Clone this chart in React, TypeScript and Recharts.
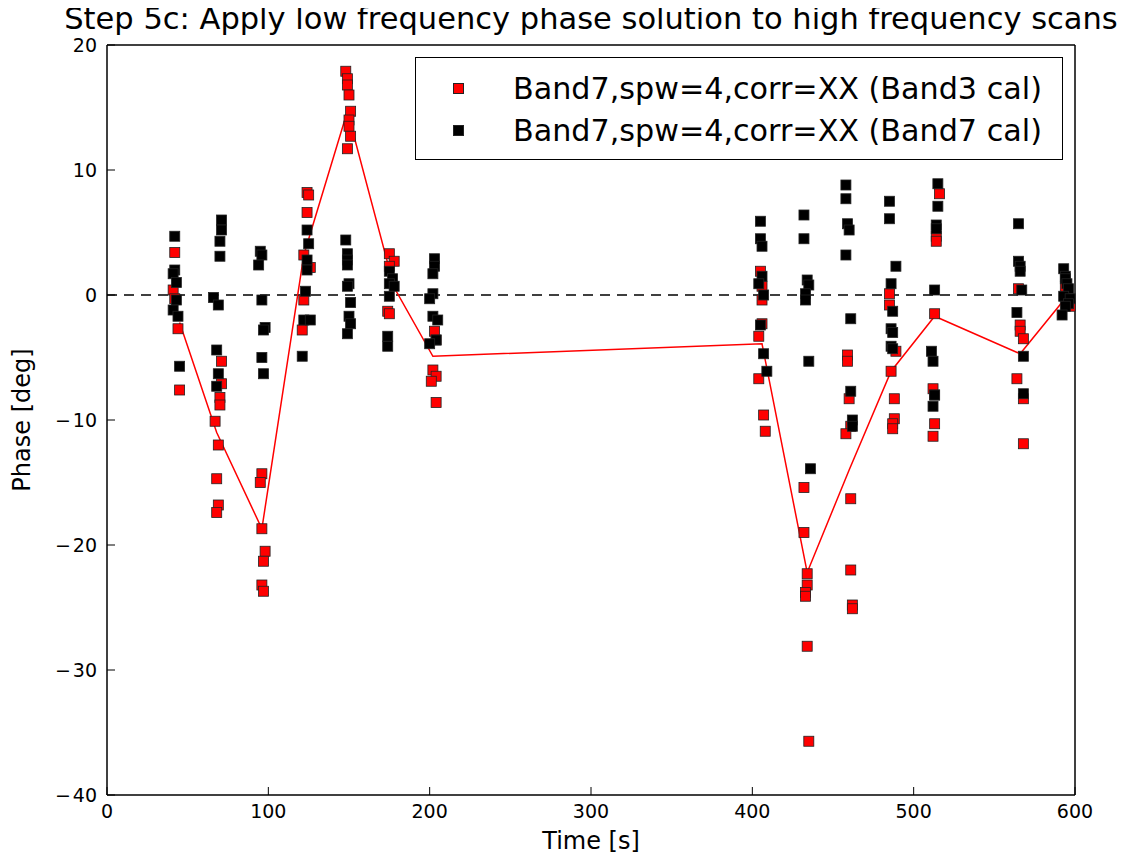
import React from "react";
import {
  ComposedChart,
  Legend,
  Line,
  ReferenceLine,
  Scatter,
  XAxis,
  YAxis,
} from "recharts";

const FONT = '"DejaVu Sans", "Bitstream Vera Sans", sans-serif';

const X_TICKS = [0, 100, 200, 300, 400, 500, 600];
const Y_TICKS = [-40, -30, -20, -10, 0, 10, 20];

// [time s, phase deg]
const BAND3_CAL: [number, number][] = [
  [42, 3.4], [41, 0.4], [42, -0.3], [44, -2.7], [45, -7.6],
  [71, -5.3], [71, -7.1], [70, -8.2], [70, -8.8], [67, -10.1], [69, -12.0], [68, -14.7], [69, -16.8], [68, -17.4],
  [96, -14.3], [95, -15.0], [96, -18.7], [98, -20.5], [97, -21.3], [96, -23.2], [97, -23.7],
  [124, 8.2], [125, 8.0], [124, 6.6], [122, 3.2], [126, 2.2], [122, -0.4], [121, -2.8],
  [148, 17.9], [149, 17.3], [149, 16.8], [150, 16.0], [151, 14.7], [150, 14.0], [150, 13.5], [151, 12.7], [149, 11.7],
  [175, 3.3], [178, 2.7], [175, 2.3], [174, -1.3], [175, -1.5],
  [203, -2.9], [204, -3.6], [202, -6.0], [204, -6.5], [201, -6.9], [204, -8.6],
  [405, 1.9], [406, 0.7], [406, -0.4], [406, -2.3], [404, -3.3], [404, -6.7], [407, -9.6], [408, -10.9],
  [432, -15.4], [432, -19.0], [434, -22.3], [434, -23.2], [433, -23.8], [433, -24.1], [434, -28.1], [435, -35.7],
  [459, -4.8], [459, -5.3], [460, -8.3], [461, -10.5], [458, -11.1], [461, -16.3], [461, -22.0], [462, -24.8], [462, -25.1],
  [485, 0.1], [485, -0.8], [489, -4.5], [486, -6.1], [488, -8.3], [488, -9.9], [487, -10.3], [487, -10.7],
  [516, 8.1], [514, 4.7], [514, 4.3], [513, -1.5], [512, -7.5], [513, -8.0], [513, -10.3], [512, -11.3],
  [565, 0.5], [566, -2.4], [566, -2.9], [568, -3.5], [564, -6.7], [568, -8.3], [568, -11.9],
  [594, 0.7], [595, -0.4], [597, -0.9],
];

const BAND7_CAL: [number, number][] = [
  [42, 4.7], [42, 2.0], [41, 1.7], [43, 1.0], [43, -0.4], [41, -1.2], [44, -1.7], [45, -5.7],
  [71, 6.0], [71, 5.2], [70, 4.3], [70, 3.1], [66, -0.2], [69, -0.8], [68, -4.4], [69, -6.3], [68, -7.3],
  [95, 3.5], [96, 3.2], [94, 2.4], [96, -0.4], [98, -2.6], [97, -2.8], [96, -5.0], [97, -6.3],
  [124, 5.2], [125, 4.1], [124, 2.8], [124, 2.0], [123, 0.3], [122, -2.0], [126, -2.0], [121, -4.9],
  [148, 4.4], [149, 3.3], [149, 2.8], [149, 2.4], [150, 0.9], [149, 0.7], [151, -0.6], [150, -1.7], [151, -2.3], [149, -3.1],
  [175, 1.9], [177, 1.3], [175, 0.9], [178, 0.7], [175, -0.1], [174, -3.3], [174, -4.1],
  [203, 2.9], [203, 2.3], [202, 1.7], [202, 0.1], [200, -0.3], [202, -1.7], [205, -2.0], [204, -3.6], [200, -3.9],
  [405, 5.9], [405, 4.5], [406, 3.9], [406, 1.5], [404, 0.9], [407, 0.0], [405, -2.4], [407, -4.7], [409, -6.1],
  [432, 6.4], [432, 4.5], [434, 1.2], [435, 0.8], [433, 0.1], [433, -0.4], [435, -5.3], [436, -13.9],
  [458, 8.8], [458, 7.7], [459, 5.7], [460, 5.2], [458, 3.2], [461, -1.9], [461, -7.7], [462, -10.0], [462, -10.5],
  [485, 7.5], [485, 6.1], [489, 2.3], [486, 0.9], [487, -1.3], [486, -2.7], [487, -3.0], [486, -4.1], [487, -4.3],
  [515, 8.9], [515, 7.1], [514, 5.6], [514, 5.3], [513, 0.4], [511, -4.5], [512, -5.3], [513, -8.0], [512, -8.9],
  [565, 5.7], [565, 2.7], [566, 2.3], [566, 1.9], [567, 0.4], [564, -1.4], [568, -4.9], [568, -7.9],
  [593, 2.1], [594, 1.5], [594, 1.3], [595, 0.9], [596, 0.5], [593, -0.1], [597, -0.3], [596, -0.7], [594, -0.9], [592, -1.6],
];

// low frequency solution, one vertex per scan
const SOLUTION: [number, number][] = [
  [45, -2.2], [68, -11.0], [96, -18.7], [122, 3.2], [149, 14.7], [178, 0.6], [202, -4.9],
  [406, -3.9], [434, -22.2], [460, -14.0], [486, -6.1], [513, -1.7], [566, -4.7], [595, -0.1],
];

const LABEL_B3 = "Band7,spw=4,corr=XX (Band3 cal)";
const LABEL_B7 = "Band7,spw=4,corr=XX (Band7 cal)";

const toPts = (arr: [number, number][]) => arr.map(([t, v]) => ({ t, v }));

const TICK_LEN = 8;
const MARK = 10;

// matplotlib's minus sign is wide, give it a little room
const TickText = ({ v }: { v: number }) =>
  v < 0 ? (
    <>
      <tspan>{"\u2212"}</tspan>
      <tspan dx={2}>{Math.abs(v)}</tspan>
    </>
  ) : (
    <>{v}</>
  );

function Square(props: any) {
  const { cx, cy, fill } = props;
  if (cx == null || cy == null) return null;
  return (
    <rect
      x={cx - MARK / 2}
      y={cy - MARK / 2}
      width={MARK}
      height={MARK}
      fill={fill}
      stroke="#222"
      strokeWidth={0.8}
    />
  );
}

const BottomTick = ({ x, y, payload }: any) => (
  <g>
    <line x1={x} x2={x} y1={y} y2={y - TICK_LEN} stroke="#000" />
    <text x={x} y={y + 23} textAnchor="middle" fontSize={19} fontFamily={FONT} fill="#000">
      <TickText v={payload.value} />
    </text>
  </g>
);

const TopTick = ({ x, y }: any) => (
  <line x1={x} x2={x} y1={y} y2={y + TICK_LEN} stroke="#000" />
);

const LeftTick = ({ x, y, payload }: any) => (
  <g>
    <line x1={x} x2={x + TICK_LEN} y1={y} y2={y} stroke="#000" />
    <text x={x - 10} y={y} textAnchor="end" dominantBaseline="central" fontSize={19} fontFamily={FONT} fill="#000">
      <TickText v={payload.value} />
    </text>
  </g>
);

const RightTick = ({ x, y }: any) => (
  <line x1={x} x2={x - TICK_LEN} y1={y} y2={y} stroke="#000" />
);

const renderLegend = (props: any) => {
  const items = (props.payload || []).filter((p: any) => p.type !== "none");
  return (
    <div
      style={{
        boxSizing: "border-box",
        width: 648,
        height: 103,
        border: "1.5px solid #000",
        background: "#fff",
        fontFamily: FONT,
        fontSize: 30.2,
        position: "relative",
      }}
    >
      {items.map((it: any, i: number) => (
        <div
          key={i}
          style={{
            position: "absolute",
            left: 0,
            top: 30 + i * 42 - 18,
            height: 36,
            display: "flex",
            alignItems: "center",
          }}
        >
          <span
            style={{
              display: "inline-block",
              width: 9,
              height: 9,
              background: it.color,
              border: "1px solid #222",
              marginLeft: 37,
            }}
          />
          <span style={{ marginLeft: 49, whiteSpace: "nowrap", color: "#000" }}>{it.value}</span>
        </div>
      ))}
    </div>
  );
};

export default function App() {
  const W = 1118;
  const H = 850;
  return (
    <div style={{ position: "relative", width: W, height: H }}>
      <ComposedChart
        width={W}
        height={H}
        margin={{ top: 36, right: 41, bottom: 3, left: 39 }}
      >
        <XAxis
          xAxisId="b"
          dataKey="t"
          type="number"
          domain={[0, 600]}
          ticks={X_TICKS}
          interval={0}
          height={60}
          tickSize={0}
          tickMargin={0}
          tick={<BottomTick />}
          axisLine={{ stroke: "#000", strokeWidth: 1.5 }}
          label={{
            content: (p: any) => {
              const vb = p.viewBox;
              return (
                <text x={vb.x + vb.width / 2} y={vb.y + 54} textAnchor="middle" fontSize={24} fontFamily={FONT} fill="#000">
                  Time [s]
                </text>
              );
            },
          }}
        />
        <XAxis
          xAxisId="t"
          dataKey="t"
          type="number"
          orientation="top"
          domain={[0, 600]}
          ticks={X_TICKS}
          interval={0}
          height={1}
          tickSize={0}
          tickMargin={0}
          tick={<TopTick />}
          axisLine={{ stroke: "#000", strokeWidth: 1.5 }}
        />
        <YAxis
          yAxisId="l"
          type="number"
          domain={[-40, 20]}
          ticks={Y_TICKS}
          interval={0}
          width={60}
          tickSize={0}
          tickMargin={0}
          tick={<LeftTick />}
          axisLine={{ stroke: "#000", strokeWidth: 1.5 }}
          label={{
            content: (p: any) => {
              const vb = p.viewBox;
              const cx = vb.x - 25;
              const cy = vb.y + vb.height / 2;
              return (
                <text x={cx} y={cy} transform={`rotate(-90 ${cx} ${cy})`} textAnchor="middle" dominantBaseline="central" fontSize={24} fontFamily={FONT} fill="#000">
                  Phase [deg]
                </text>
              );
            },
          }}
        />
        <YAxis
          yAxisId="r"
          orientation="right"
          type="number"
          domain={[-40, 20]}
          ticks={Y_TICKS}
          interval={0}
          width={10}
          tickSize={0}
          tickMargin={0}
          tick={<RightTick />}
          axisLine={{ stroke: "#000", strokeWidth: 1.5 }}
        />
        <ReferenceLine
          xAxisId="b"
          yAxisId="l"
          y={0}
          stroke="#000"
          strokeWidth={1.5}
          strokeDasharray="10 7"
        />
        <Line
          xAxisId="b"
          yAxisId="l"
          data={toPts(SOLUTION)}
          dataKey="v"
          stroke="#ff0000"
          strokeWidth={1.5}
          dot={false}
          legendType="none"
          isAnimationActive={false}
        />
        <Scatter
          xAxisId="b"
          yAxisId="l"
          name={LABEL_B3}
          data={toPts(BAND3_CAL)}
          dataKey="v"
          fill="#ff0000"
          shape={(p: any) => <Square {...p} fill="#ff0000" />}
          isAnimationActive={false}
        />
        <Scatter
          xAxisId="b"
          yAxisId="l"
          name={LABEL_B7}
          data={toPts(BAND7_CAL)}
          dataKey="v"
          fill="#000000"
          shape={(p: any) => <Square {...p} fill="#000000" />}
          isAnimationActive={false}
        />
        <Legend
          layout="horizontal"
          verticalAlign="middle"
          align="center"
          content={renderLegend}
          wrapperStyle={{ position: "absolute", left: 407, top: 49, width: 648, height: 103 }}
        />
      </ComposedChart>
      <div
        style={{
          position: "absolute",
          zIndex: 2,
          left: 583 - 600,
          width: 1200,
          top: -4,
          height: 30,
          lineHeight: "30px",
          textAlign: "center",
          fontFamily: FONT,
          fontSize: 30.5,
          whiteSpace: "nowrap",
          color: "#000",
        }}
      >
        Step 5c: Apply low frequency phase solution to high frequency scans
      </div>
    </div>
  );
}
